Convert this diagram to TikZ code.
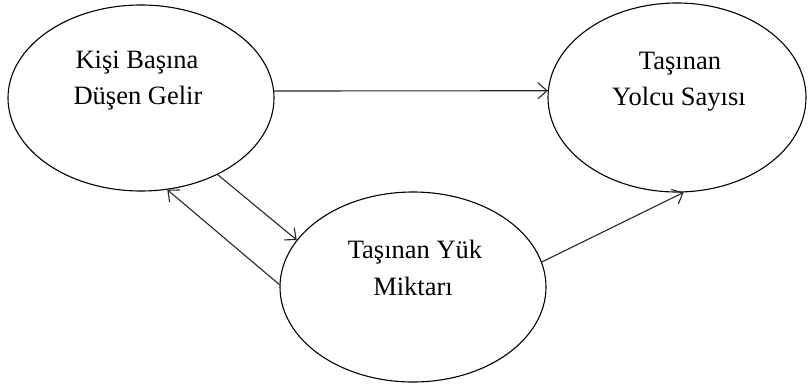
\documentclass[tikz,border=0pt]{standalone}
\usepackage{fontspec}
\setmainfont{Liberation Serif}
\usetikzlibrary{arrows.meta,shapes.geometric}
\begin{document}
\begin{tikzpicture}[x=1pt,y=-1pt,
  oval/.style={draw=black,line width=1.1pt,ellipse,inner sep=0pt},
  lbl/.style={anchor=base,inner sep=0pt,font=\fontsize{26.5}{36}\selectfont},
  conn/.style={draw=black!85,line width=1.1pt,-{Straight Barb[length=9pt,width=16pt,line width=1.1pt]}}]
\useasboundingbox (0,0) rectangle (808,385);
\node[oval,minimum width=266pt,minimum height=186pt] (L) at (141,98) {};
\node[oval,minimum width=258pt,minimum height=189pt] (R) at (677,97.5) {};
\node[oval,minimum width=266pt,minimum height=190pt] (B) at (413,287) {};
\node[lbl] (l1) at (137,69) {Kişi Başına};
\node[lbl] (l2) at (138,105) {Düşen Gelir};
\node[lbl] (r1) at (680,70) {Taşınan};
\node[lbl] (r2) at (679,106) {Yolcu Sayısı};
\node[lbl] (b1) at (415,258) {Taşınan Yük};
\node[lbl] (b2) at (413,295) {Miktarı};
\draw[conn] (L.3.4) -- (R.177);
\draw[conn] (L.-45.7) -- (B.158.3);
\draw[conn] (B.179) -- (L.-74.5);
\draw[conn] (B.11) -- (R.-86.4);
\end{tikzpicture}
\end{document}
